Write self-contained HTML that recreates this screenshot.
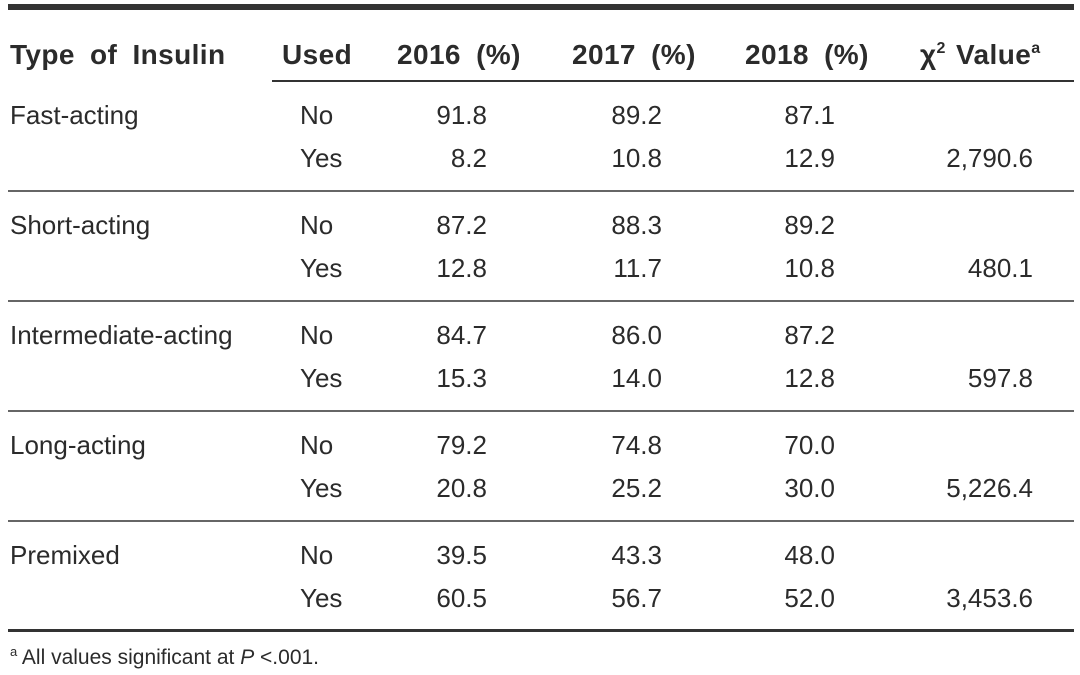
<!DOCTYPE html>
<html><head><meta charset="utf-8"><style>
body{margin:0;width:1080px;height:675px;background:#fff;position:relative;overflow:hidden;font-family:"Liberation Sans",sans-serif;color:#2b2b2b}
.r{position:absolute;background:#333}
.t{position:absolute;font-size:26px;line-height:30px;white-space:nowrap}
.h{position:absolute;font-size:28px;font-weight:bold;line-height:30px;white-space:nowrap;word-spacing:7px;letter-spacing:0.4px}
.n{text-align:right;width:140px}
.s{font-size:16px;position:relative;top:-11px}
</style></head><body>
<div class="r" style="left:8px;top:4px;width:1066px;height:6px"></div>
<div class="r" style="left:272px;top:80px;width:802px;height:1.5px"></div>
<div class="r" style="left:8px;top:190px;width:1066px;height:1.5px;background:#666"></div>
<div class="r" style="left:8px;top:300px;width:1066px;height:1.5px;background:#666"></div>
<div class="r" style="left:8px;top:410px;width:1066px;height:1.5px;background:#666"></div>
<div class="r" style="left:8px;top:520px;width:1066px;height:1.5px;background:#666"></div>
<div class="r" style="left:8px;top:629px;width:1066px;height:2.5px"></div>

<div class="h" style="left:10px;top:40px">Type of Insulin</div>
<div class="h" style="left:282px;top:40px">Used</div>
<div class="h" style="left:397px;top:40px">2016 (%)</div>
<div class="h" style="left:572px;top:40px">2017 (%)</div>
<div class="h" style="left:745px;top:40px">2018 (%)</div>
<div class="h" style="left:920px;top:40px;word-spacing:2px">χ<span class="s">2</span> Value<span class="s">a</span></div>

<div id="rows"></div>
<script>
var d=[["Fast-acting","91.8","89.2","87.1","8.2","10.8","12.9","2,790.6"],
["Short-acting","87.2","88.3","89.2","12.8","11.7","10.8","480.1"],
["Intermediate-acting","84.7","86.0","87.2","15.3","14.0","12.8","597.8"],
["Long-acting","79.2","74.8","70.0","20.8","25.2","30.0","5,226.4"],
["Premixed","39.5","43.3","48.0","60.5","56.7","52.0","3,453.6"]];
var h="";
d.forEach(function(r,i){var y1=100+i*110,y2=143+i*110;
h+='<div class="t" style="left:10px;top:'+y1+'px">'+r[0]+'</div>';
h+='<div class="t" style="left:300px;top:'+y1+'px">No</div>';
h+='<div class="t" style="left:300px;top:'+y2+'px">Yes</div>';
var R=[487,662,835];
for(var k=0;k<3;k++){
h+='<div class="t n" style="left:'+(R[k]-140)+'px;top:'+y1+'px">'+r[1+k]+'</div>';
h+='<div class="t n" style="left:'+(R[k]-140)+'px;top:'+y2+'px">'+r[4+k]+'</div>';}
h+='<div class="t n" style="left:893px;top:'+y2+'px">'+r[7]+'</div>';});
document.getElementById("rows").innerHTML=h;
</script>
<div class="t" style="left:10px;top:643px;font-size:21px"><span style="font-size:13px;position:relative;top:-8px">a</span> All values significant at <i>P</i> &lt;.001.</div>
</body></html>
